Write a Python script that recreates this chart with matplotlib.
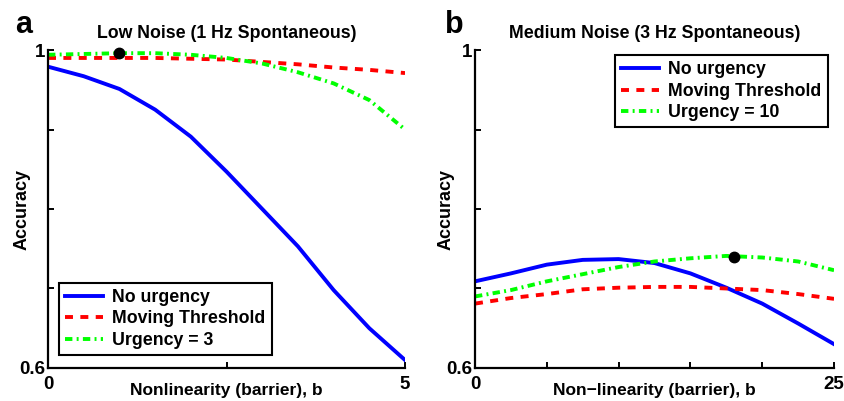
import numpy as np
import matplotlib.pyplot as plt

plt.rcParams['font.family'] = ['Liberation Sans', 'DejaVu Sans']
plt.rcParams['font.weight'] = 'bold'
plt.rcParams['axes.labelweight'] = 'bold'
plt.rcParams['axes.titleweight'] = 'bold'

# panel a: low noise
b_a = [0, 0.5, 1.0, 1.5, 2.0, 2.5, 3.0, 3.5, 4.0, 4.5, 5.0]
a_no_urgency = [0.979, 0.967, 0.951, 0.925, 0.891, 0.847, 0.800, 0.753, 0.698, 0.650, 0.610]
a_moving = [0.990, 0.990, 0.990, 0.990, 0.989, 0.988, 0.985, 0.982, 0.978, 0.975, 0.971]
a_urgency = [0.994, 0.995, 0.996, 0.996, 0.994, 0.990, 0.983, 0.972, 0.958, 0.937, 0.900]
a_best = (1.0, 0.996)

# panel b: medium noise
b_b = [0, 2.5, 5, 7.5, 10, 12.5, 15, 17.5, 20, 22.5, 25]
b_no_urgency = [0.709, 0.719, 0.730, 0.736, 0.737, 0.732, 0.719, 0.701, 0.681, 0.656, 0.630]
b_moving = [0.681, 0.688, 0.693, 0.699, 0.701, 0.702, 0.702, 0.700, 0.698, 0.693, 0.687]
b_urgency = [0.690, 0.698, 0.709, 0.718, 0.727, 0.734, 0.738, 0.741, 0.739, 0.734, 0.723]
b_best = (18.0, 0.740)

fig = plt.figure(figsize=(8.44, 4.01), dpi=100)
ax1 = fig.add_axes([0.0569, 0.0823, 0.423, 0.793])
ax2 = fig.add_axes([0.5628, 0.0823, 0.4254, 0.793])

lw = 2.8
red_dash = (2.05, 1.9)
green_dash = (1.9, 1.1, 0.5, 1.1)


def style(ax, xmax, xticks, title, xlabel, letter, letter_x, ylab_x):
    ax.set_xlim(0, xmax)
    ax.set_ylim(0.6, 1.0)
    ax.spines['top'].set_visible(False)
    ax.spines['right'].set_visible(False)
    for s in ['left', 'bottom']:
        ax.spines[s].set_linewidth(1.6)
    ax.set_yticks([0.6, 0.7, 0.8, 0.9, 1.0])
    ax.set_yticklabels(['0.6', '', '', '', '1'])
    ax.set_xticks(xticks)
    ax.set_xticklabels([str(xticks[0])] + [''] * (len(xticks) - 2) + [str(xticks[-1])])
    ax.tick_params(direction='in', length=4, width=1.4, labelsize=13.5, pad=2)
    ax.tick_params(axis='x', pad=6)
    ax.set_title(title, fontsize=12.8, pad=9)
    ax.set_xlabel(xlabel, fontsize=12.5)
    ax.xaxis.set_label_coords(0.5, -0.047)
    ax.set_ylabel('Accuracy', fontsize=13)
    ax.yaxis.set_label_coords(ylab_x, 0.5)
    ax.text(letter_x, 1.053, letter, transform=ax.transAxes, fontsize=22,
            fontweight='bold', ha='left', va='baseline')


def legend(ax, loc, anchor):
    leg = ax.legend(loc=loc, bbox_to_anchor=anchor, fontsize=12.8,
                    frameon=True, fancybox=False, edgecolor='black', framealpha=1,
                    handlelength=2.1, handletextpad=0.55, borderpad=0.35,
                    labelspacing=0.25, borderaxespad=0)
    leg.get_frame().set_linewidth(1.5)


ax1.plot(b_a, a_no_urgency, color='#0000ff', lw=lw, label='No urgency')
ax1.plot(b_a, a_moving, color='#ff0000', lw=lw, dashes=red_dash, label='Moving Threshold')
ax1.plot(b_a, a_urgency, color='#00ff00', lw=lw, dashes=green_dash, label='Urgency = 3')
ax1.plot(*a_best, 'o', color='black', ms=7.5, clip_on=False)
style(ax1, 5, [0, 2.5, 5], 'Low Noise (1 Hz Spontaneous)', 'Nonlinearity (barrier), b',
      'a', -0.092, -0.05)
ax1.set_xticklabels(['0', '', '5'])
legend(ax1, 'lower left', (0.031, 0.041))

ax2.plot(b_b, b_no_urgency, color='#0000ff', lw=lw, label='No urgency')
ax2.plot(b_b, b_moving, color='#ff0000', lw=lw, dashes=red_dash, label='Moving Threshold')
ax2.plot(b_b, b_urgency, color='#00ff00', lw=lw, dashes=green_dash, label='Urgency = 10')
ax2.plot(*b_best, 'o', color='black', ms=7.5)
style(ax2, 25, [0, 5, 10, 15, 20, 25], 'Medium Noise (3 Hz Spontaneous)',
      'Non\u2212linearity (barrier), b', 'b', -0.084, -0.058)
legend(ax2, 'upper right', (0.983, 0.984))

fig.savefig('out.png', dpi=100)
